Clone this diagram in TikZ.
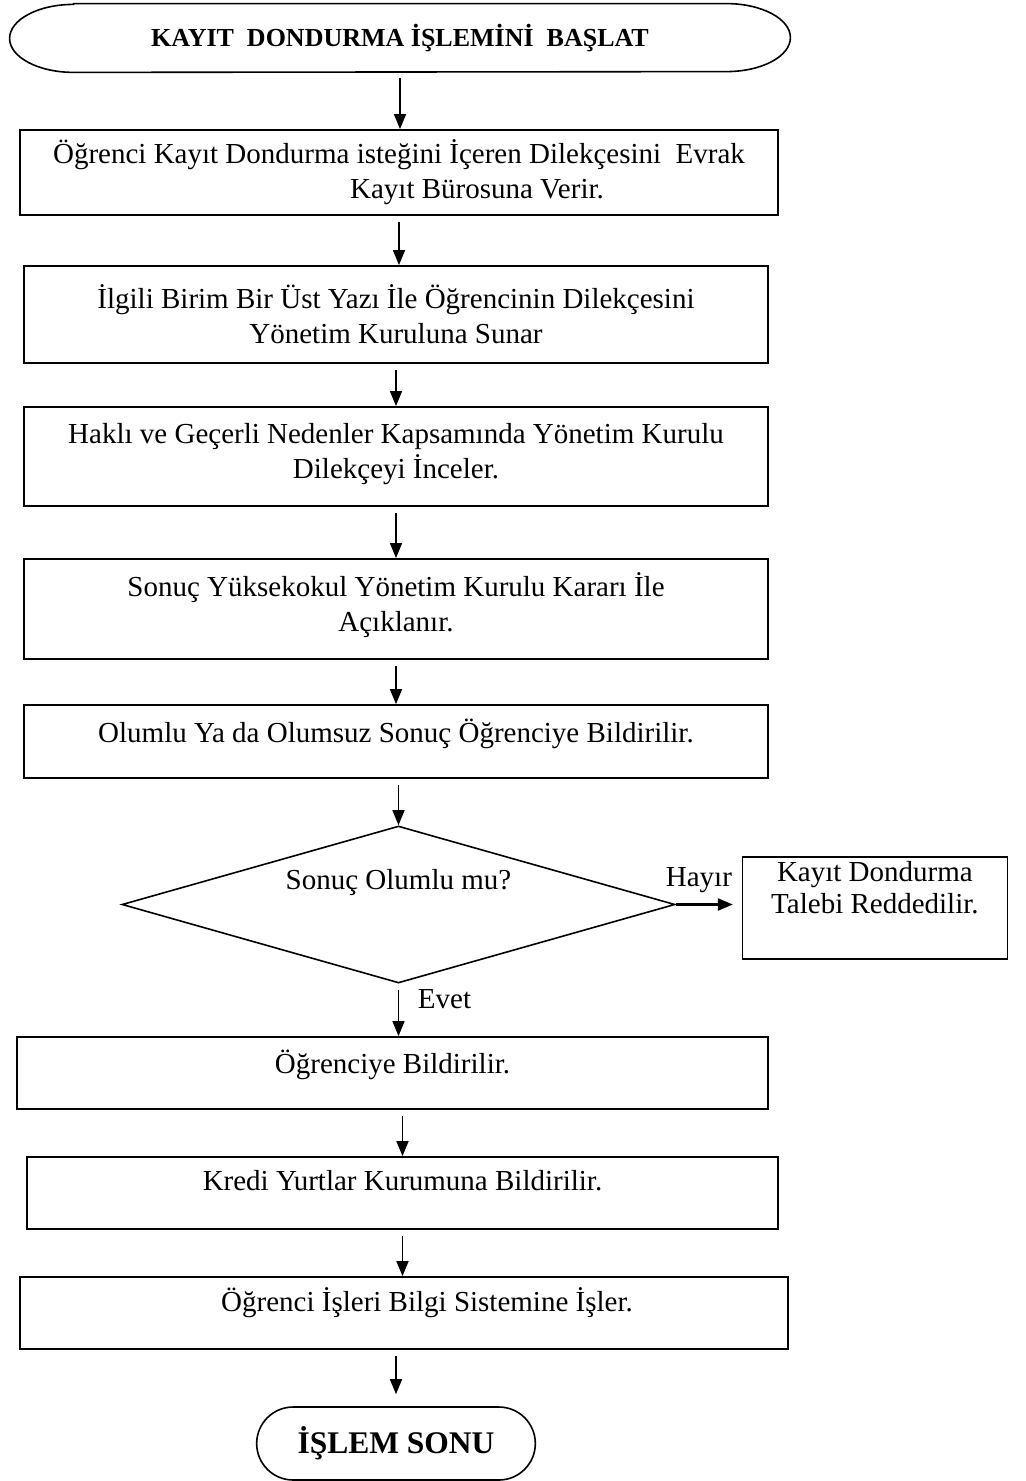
\documentclass[tikz,border=0pt]{standalone}
\usepackage{fontspec}
\setmainfont{Liberation Serif}
\usetikzlibrary{arrows.meta,positioning,shapes.geometric,shapes.misc}

\begin{document}
\begin{tikzpicture}[x=0.5pt, y=-0.5pt, font=\fontsize{14.5}{17.5}\selectfont,
    stepbox/.style={rectangle,draw=black,line width=0.9pt,align=center,inner sep=2pt},
    lift/.style={text depth=#1},
    decision/.style={diamond,draw=black,line width=0.8pt,aspect=3.5,inner sep=0pt},
    termbox/.style={rounded rectangle,draw=black,line width=0.8pt,font=\bfseries\fontsize{15.75}{18}\selectfont},
    flow/.style={-{Triangle[length=7.5pt,width=6pt]},line width=0.75pt,shorten <=3pt},
   ]
    \useasboundingbox (0,0) rectangle (1025,1481);

    \node (start) [minimum width=390pt,minimum height=34pt,font=\bfseries\fontsize{13}{15}\selectfont] at (400,38) {KAYIT\ \ DONDURMA İŞLEMİNİ\ \ BAŞLAT};
    \draw[line width=0.8pt] ([xshift=32pt]start.north west) -- ([xshift=-32pt]start.north east)
          arc[start angle=90,end angle=-90,x radius=32pt,y radius=17pt]
          -- ([xshift=32pt]start.south west)
          arc[start angle=270,end angle=90,x radius=32pt,y radius=17pt] -- cycle;

    \node (dilekce) [stepbox,minimum width=379pt,minimum height=42.5pt] at (399,172.5) {Öğrenci Kayıt Dondurma isteğini İçeren Dilekçesini\ \ Evrak\\ \hspace*{78pt}Kayıt Bürosuna Verir.};
    \node (sunar)   [stepbox,minimum width=372pt,minimum height=48.5pt] at (396,314.5) {İlgili Birim Bir Üst Yazı İle Öğrencinin Dilekçesini\\ Yönetim Kuruluna Sunar};
    \node (incele)  [stepbox,lift=6pt,minimum width=372pt,minimum height=49.5pt] at (396,456.5) {Haklı ve Geçerli Nedenler Kapsamında Yönetim Kurulu\\ Dilekçeyi İnceler.};
    \node (karar)   [stepbox,lift=7pt,minimum width=372pt,minimum height=50pt] at (396,609) {Sonuç Yüksekokul Yönetim Kurulu Kararı İle\\ Açıklanır.};
    \node (bildir)  [stepbox,lift=11pt,minimum width=372pt,minimum height=36.5pt] at (396,741.5) {Olumlu Ya da Olumsuz Sonuç Öğrenciye Bildirilir.};

    \node (olumlu)  [decision,lift=25pt,minimum width=276.5pt,minimum height=78.5pt] at (398.5,904.5) {Sonuç Olumlu mu?};
    \node (red)     [stepbox,line width=0.6pt,lift=21pt,minimum width=132.5pt,minimum height=48pt,
                     font=\fontsize{14.5}{16}\selectfont,right=33pt of olumlu,yshift=-1.75pt] {Kayıt Dondurma\\ Talebi Reddedilir.};

    \node (ogrenci) [stepbox,lift=11pt,minimum width=375.5pt,minimum height=36pt] at (392.5,1073) {Öğrenciye Bildirilir.};
    \node (kyk)     [stepbox,lift=13pt,minimum width=375.5pt,minimum height=36pt] at (402.5,1193) {Kredi Yurtlar Kurumuna Bildirilir.};
    \node (obs)     [stepbox,lift=13pt,minimum width=384pt,minimum height=36pt] at (404,1313) {\hspace*{23pt}Öğrenci İşleri Bilgi Sistemine İşler.};
    \node (son)     [termbox,minimum width=146pt,minimum height=36.5pt] at (396,1443.5) {İŞLEM SONU};

    \draw[flow] (start.south) -- (start.south |- dilekce.north);
    \draw[flow] (dilekce.south) -- (dilekce.south |- sunar.north);
    \draw[flow] (sunar.south) -- (sunar.south |- incele.north);
    \draw[flow] (incele.south) -- (incele.south |- karar.north);
    \draw[flow] (karar.south) -- (karar.south |- bildir.north);
    \draw[flow] (bildir.south -| olumlu.north) -- (olumlu.north);
    \draw[flow] (olumlu.south) -- node[pos=0.3,right=6pt] {Evet} (olumlu.south |- ogrenci.north);
    \draw[flow,line width=1.2pt,shorten <=0pt,shorten >=4.5pt] (olumlu.east) -- node[pos=0.35,above=2pt] {Hayır} (olumlu.east -| red.west);
    \draw[flow] (ogrenci.south -| kyk.north) -- (kyk.north);
    \draw[flow] (kyk.south) -- (kyk.south |- obs.north);
    \draw[flow,shorten >=6pt] (obs.south -| son.north) -- (son.north);
\end{tikzpicture}
\end{document}
